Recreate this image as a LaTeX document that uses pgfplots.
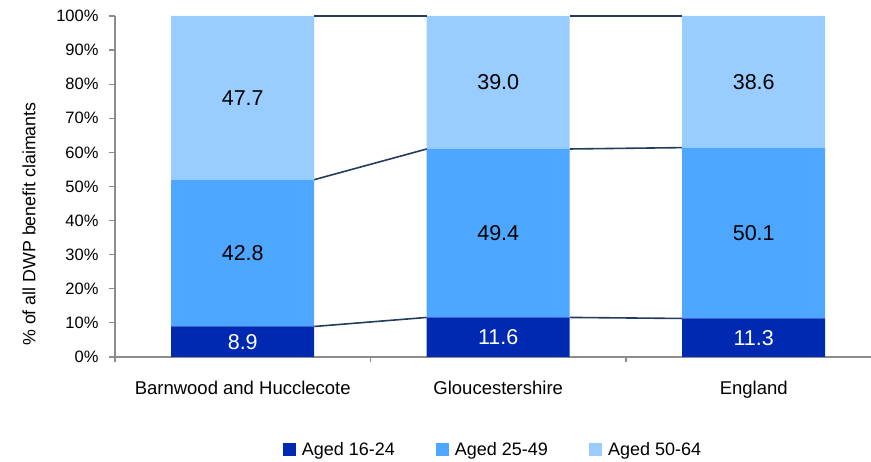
\documentclass[border=0pt]{standalone}
\usepackage{pgfplots}
\pgfplotsset{compat=1.18}
\usepackage{fontspec}
\setmainfont{Liberation Sans}
\definecolor{cA}{RGB}{0,41,178}
\definecolor{cB}{RGB}{77,166,255}
\definecolor{cC}{RGB}{153,204,255}
\definecolor{cLine}{RGB}{36,60,92}
\definecolor{cAxis}{RGB}{140,140,140}
\begin{document}
\begin{tikzpicture}
\pgfplotsset{
  base/.style={
    scale only axis, width=756pt, height=341pt,
    at={(0pt,0pt)}, anchor=south west,
    xmin=-0.5, xmax=2.459, ymin=0, ymax=100,
  },
  sq/.style={legend image code/.code={\fill[##1] (0pt,-6.5pt) rectangle (13pt,6.5pt);}},
  lab/.style={nodes near coords, point meta=explicit symbolic,
    every node near coord/.append style={#1, font=\fontsize{21.5}{21.5}\selectfont, anchor=center}},
}
\begin{axis}[base,
  ybar stacked, bar width=143pt,
  axis x line*=bottom, axis y line*=left,
  axis line style={cAxis, line width=1.2pt},
  tick align=outside,
  ytick={0,10,...,100},
  yticklabel={\pgfmathparse{int(\tick)}\pgfmathresult\%},
  yticklabel style={font=\fontsize{16.5}{16.5}\selectfont, xshift=-7pt},
  major tick length=6pt,
  tick style={cAxis, line width=1.2pt},
  xtick={0,1,2},
  xticklabels={Barnwood and Hucclecote, Gloucestershire, England},
  x tick style={draw=none},
  xticklabel style={font=\fontsize{18.5}{18.5}\selectfont, yshift=-15pt},
  extra x ticks={-0.5,0.5,1.5},
  extra x tick labels={},
  extra x tick style={x tick style={draw=cAxis, line width=1.2pt}, major tick length=5pt},
  every axis y label/.style={at={(axis description cs:0,0.39)}, xshift=-86pt, rotate=90, anchor=center},
  ylabel={\fontsize{17.8}{17.8}\selectfont\% of all DWP benefit claimants},
  legend columns=3,
  legend style={draw=none, fill=none, at={(0.5,-0.2727)}, anchor=center,
    font=\fontsize{18}{18}\selectfont,
    /tikz/every even column/.append style={column sep=39pt},
    /tikz/every odd column/.append style={column sep=4pt}},
]
\addplot[fill=cA, draw=none, sq, lab=white] table[x=x, y=y, meta=l] {
x y l
0 8.95 8.9
1 11.6 11.6
2 11.3 11.3
};
\addplot[fill=cB, draw=none, sq, lab=black] table[x=x, y=y, meta=l] {
x y l
0 43.06 42.8
1 49.4 49.4
2 50.1 50.1
};
\addplot[fill=cC, draw=none, sq, lab=black] table[x=x, y=y, meta=l] {
x y l
0 47.99 47.7
1 39.0 39.0
2 38.6 38.6
};
\legend{Aged 16-24, Aged 25-49, Aged 50-64}
\end{axis}
\begin{axis}[base, axis lines=none, clip=false, unbounded coords=jump]
\addplot[cLine, line width=1.6pt] coordinates {(0.28,8.95) (0.72,11.6) (1,nan) (1.28,11.6) (1.72,11.3)};
\addplot[cLine, line width=1.6pt] coordinates {(0.28,52.01) (0.72,61.0) (1,nan) (1.28,61.0) (1.72,61.4)};
\addplot[cLine, line width=1.6pt] coordinates {(0.28,100) (0.72,100) (1,nan) (1.28,100) (1.72,100)};
\end{axis}
\pgfresetboundingbox
\useasboundingbox (-115pt,-105pt) rectangle (756pt,357pt);
\end{tikzpicture}
\end{document}
